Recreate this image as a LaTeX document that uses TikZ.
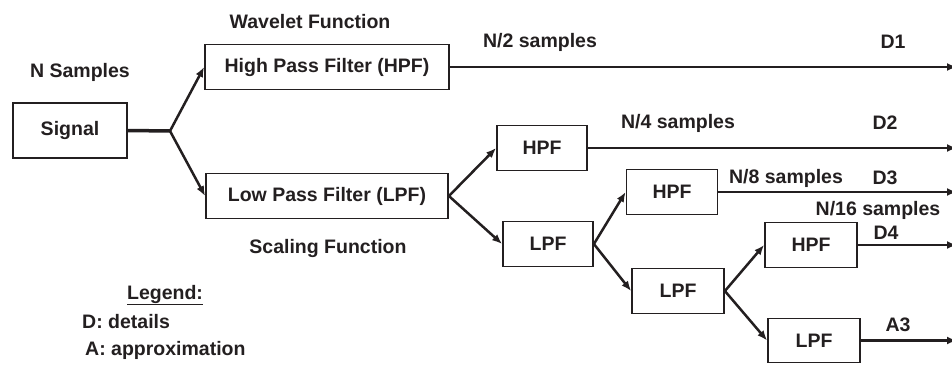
\documentclass[tikz,border=0pt]{standalone}
\usepackage{fontspec}
\setmainfont{Liberation Sans}
\usetikzlibrary{arrows.meta}
\definecolor{ink}{HTML}{231F20}
\tikzset{
  filt/.style={draw=ink, line width=1.8pt, text=ink, inner sep=0pt, minimum height=45pt},
  lbl/.style={text=ink, inner sep=0pt},
  flow/.style={draw=ink, line width=2.5pt, ->},
}
\begin{document}
\begin{tikzpicture}[x=1pt, y=-1pt, font=\fontsize{19.5}{22}\selectfont\bfseries,
    >={Latex[length=10pt,width=8pt]}]
    \useasboundingbox (0,0) rectangle (952,364);

    % filter boxes
    \node[filt, minimum width=114pt, minimum height=55pt] (sig) at (70,130.5) {Signal};
    \node[filt, minimum width=244pt] (hpf) at (327,67) {High Pass Filter (HPF)};
    \node[filt, minimum width=242pt] (lpf) at (327,196) {Low Pass Filter (LPF)};
    \node[filt, minimum width=90pt] (hpfb) at (542,148) {HPF};
    \node[filt, minimum width=90pt] (lpfb) at (548,244) {LPF};
    \node[filt, minimum width=91pt] (hpfc) at (672,192) {HPF};
    \node[filt, minimum width=92pt] (lpfc) at (678,291) {LPF};
    \node[filt, minimum width=92pt] (hpfd) at (811,245) {HPF};
    \node[filt, minimum width=92pt, minimum height=44pt] (lpfd) at (814,340.5) {LPF};

    \coordinate (fork) at (170,131);
    \coordinate (rim) at (957,0);

    % splitting
    \draw[ink, line width=3.5pt] (sig.east) -- (fork);
    \draw[flow] (fork) -- (hpf.west);
    \draw[flow] (fork) -- (lpf.west);
    \draw[flow] (lpf.east) -- (hpfb.west);
    \draw[flow] (lpf.east) -- (lpfb.west);
    \draw[flow] (lpfb.east) -- (hpfc.west);
    \draw[flow] (lpfb.east) -- (lpfc.west);
    \draw[flow] (lpfc.east) -- (hpfd.west);
    \draw[flow] (lpfc.east) -- (lpfd.west);

    % outputs
    \foreach \f in {hpf,hpfb,hpfc,hpfd,lpfd}
      \draw[flow] (\f.east) -- (\f.east -| rim);

    % labels
    \node[lbl] (nsam) at (80,72) {N Samples};
    \node[lbl] (wav) at (310,22) {Wavelet Function};
    \node[lbl] (scal) at (328,248) {Scaling Function};
    \node[lbl] (n2) at (540,42) {N/2 samples};
    \node[lbl] (d1) at (893,42) {D1};
    \node[lbl] (n4) at (678,123) {N/4 samples};
    \node[lbl] (d2) at (885,123) {D2};
    \node[lbl] (n8) at (786,178) {N/8 samples};
    \node[lbl] (d3) at (885,178) {D3};
    \node[lbl] (n16) at (878,210) {N/16 samples};
    \node[lbl] (d4) at (886,233) {D4};
    \node[lbl] (a3) at (898,325) {A3};

    % legend
    \node[lbl] (leg) at (165,295) {\underline{Legend:}};
    \node[lbl, anchor=west] (dl) at (82,322) {D: details};
    \node[lbl, anchor=west] (al) at (85,350) {A: approximation};
  \end{tikzpicture}
\end{document}
